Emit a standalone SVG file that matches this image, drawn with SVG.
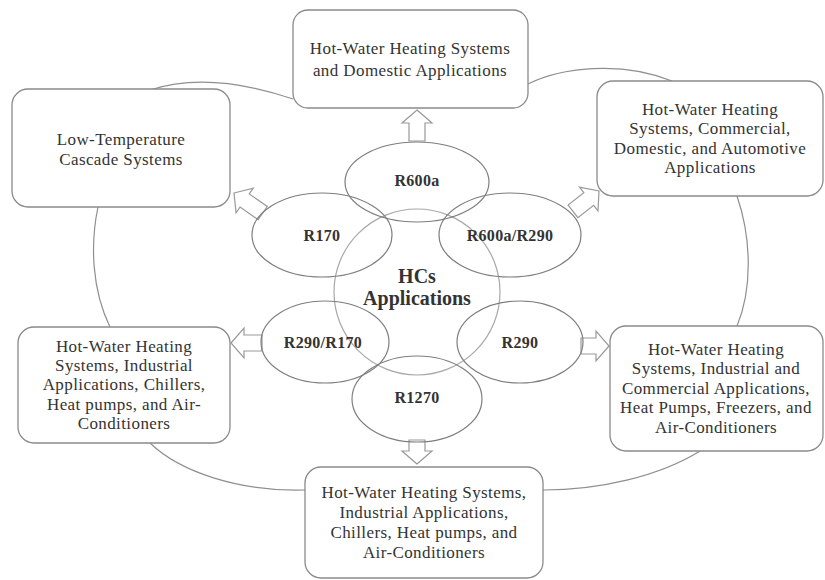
<svg xmlns="http://www.w3.org/2000/svg" width="825" height="580" viewBox="0 0 825 580">
<style>
.bg{fill:#fff}
.box{fill:#fff;stroke:#8a8a8a;stroke-width:1.3}
.ring{fill:none;stroke:#8f8f8f;stroke-width:1.2}
.ell{fill:none;stroke:#7e7e7e;stroke-width:1.2}
.hub{fill:none;stroke:#a8a8a8;stroke-width:1.2}
.arr{fill:#fff;stroke:#999;stroke-width:1.2;stroke-linejoin:miter}
.t{font-family:"Liberation Serif","Times New Roman",serif;font-size:17px;letter-spacing:0.4px;fill:#333;text-anchor:middle}
.r{font-family:"Liberation Serif","Times New Roman",serif;font-size:16px;letter-spacing:0.3px;font-weight:bold;fill:#333;text-anchor:middle}
.h{font-family:"Liberation Serif","Times New Roman",serif;font-size:20px;font-weight:bold;fill:#333;text-anchor:middle}
</style>
<rect class="bg" width="825" height="580"/>
<g id="connectors">
  <path class="ring" d="M150,90 C180,80 225,76 293,99"/>
  <path class="ring" d="M528,84 C560,68 620,60 672,81"/>
  <path class="ring" d="M737,196 C752,240 752,290 737,326"/>
  <path class="ring" d="M700,451 C660,476 600,490 543,490"/>
  <path class="ring" d="M305,490 C240,492 180,472 150,443"/>
  <path class="ring" d="M98,207 C90,245 92,290 110,327"/>
  <path class="arr" transform="translate(417,110)" d="M0,0 L15,13 L8,13 L8,31 L-8,31 L-8,13 L-15,13 Z"/>
  <path class="arr" transform="translate(417,464) rotate(180)" d="M0,0 L15,13 L8,13 L8,24 L-8,24 L-8,13 L-15,13 Z"/>
  <path class="arr" transform="translate(231,343) rotate(-90)" d="M0,0 L15,13 L8,13 L8,31 L-8,31 L-8,13 L-15,13 Z"/>
  <path class="arr" transform="translate(609,346) rotate(90)" d="M0,0 L15,13 L8,13 L8,28 L-8,28 L-8,13 L-15,13 Z"/>
  <path class="arr" transform="translate(234,193) rotate(-55)" d="M0,0 L15,13 L8,13 L8,35 L-8,35 L-8,13 L-15,13 Z"/>
  <path class="arr" transform="translate(599,191) rotate(52)" d="M0,0 L15,13 L8,13 L8,33 L-8,33 L-8,13 L-15,13 Z"/>
</g>
<g id="hub">
  <circle class="hub" cx="417" cy="292" r="83"/>
  <text class="h" x="417" y="283">HCs</text>
  <text class="h" x="417" y="305">Applications</text>
</g>
<g id="r600a">
  <ellipse class="ell" cx="417" cy="182" rx="72" ry="40"/>
  <text class="r" x="417" y="186">R600a</text>
</g>
<g id="r170">
  <ellipse class="ell" cx="322" cy="235" rx="70" ry="42"/>
  <text class="r" x="322" y="241">R170</text>
</g>
<g id="r600a-r290">
  <ellipse class="ell" cx="510" cy="235" rx="71" ry="42"/>
  <text class="r" x="510" y="241">R600a/R290</text>
</g>
<g id="r290-r170">
  <ellipse class="ell" cx="325" cy="342" rx="64" ry="41"/>
  <text class="r" x="323" y="348">R290/R170</text>
</g>
<g id="r290">
  <ellipse class="ell" cx="520" cy="342" rx="63" ry="41"/>
  <text class="r" x="520" y="348">R290</text>
</g>
<g id="r1270">
  <ellipse class="ell" cx="417" cy="399" rx="65" ry="43"/>
  <text class="r" x="417" y="403">R1270</text>
</g>
<g id="box-top">
  <rect class="box" x="293" y="10" width="235" height="98" rx="15"/>
  <text class="t" x="410" y="54">Hot-Water  Heating Systems</text>
  <text class="t" x="410" y="76">and Domestic Applications</text>
</g>
<g id="box-lowtemp">
  <rect class="box" x="12" y="89" width="218" height="118" rx="16"/>
  <text class="t" x="121" y="145">Low-Temperature</text>
  <text class="t" x="121" y="165">Cascade Systems</text>
</g>
<g id="box-topright">
  <rect class="box" x="597" y="81" width="226" height="115" rx="16"/>
  <text class="t" x="710" y="115">Hot-Water Heating</text>
  <text class="t" x="710" y="134">Systems, Commercial,</text>
  <text class="t" x="710" y="154">Domestic, and Automotive</text>
  <text class="t" x="710" y="173">Applications</text>
</g>
<g id="box-left">
  <rect class="box" x="18" y="327" width="212" height="116" rx="16"/>
  <text class="t" x="124" y="352">Hot-Water Heating</text>
  <text class="t" x="124" y="371">Systems, Industrial</text>
  <text class="t" x="124" y="390">Applications, Chillers,</text>
  <text class="t" x="124" y="410">Heat pumps, and Air-</text>
  <text class="t" x="124" y="429">Conditioners</text>
</g>
<g id="box-right">
  <rect class="box" x="610" y="326" width="213" height="125" rx="16"/>
  <text class="t" x="716" y="355">Hot-Water Heating</text>
  <text class="t" x="716" y="374">Systems, Industrial and</text>
  <text class="t" x="716" y="394">Commercial Applications,</text>
  <text class="t" x="716" y="413">Heat Pumps, Freezers, and</text>
  <text class="t" x="716" y="433">Air-Conditioners</text>
</g>
<g id="box-bottom">
  <rect class="box" x="305" y="467" width="238" height="111" rx="16"/>
  <text class="t" x="424" y="498">Hot-Water Heating Systems,</text>
  <text class="t" x="424" y="518">Industrial Applications,</text>
  <text class="t" x="424" y="538">Chillers, Heat pumps, and</text>
  <text class="t" x="424" y="558">Air-Conditioners</text>
</g>
</svg>
